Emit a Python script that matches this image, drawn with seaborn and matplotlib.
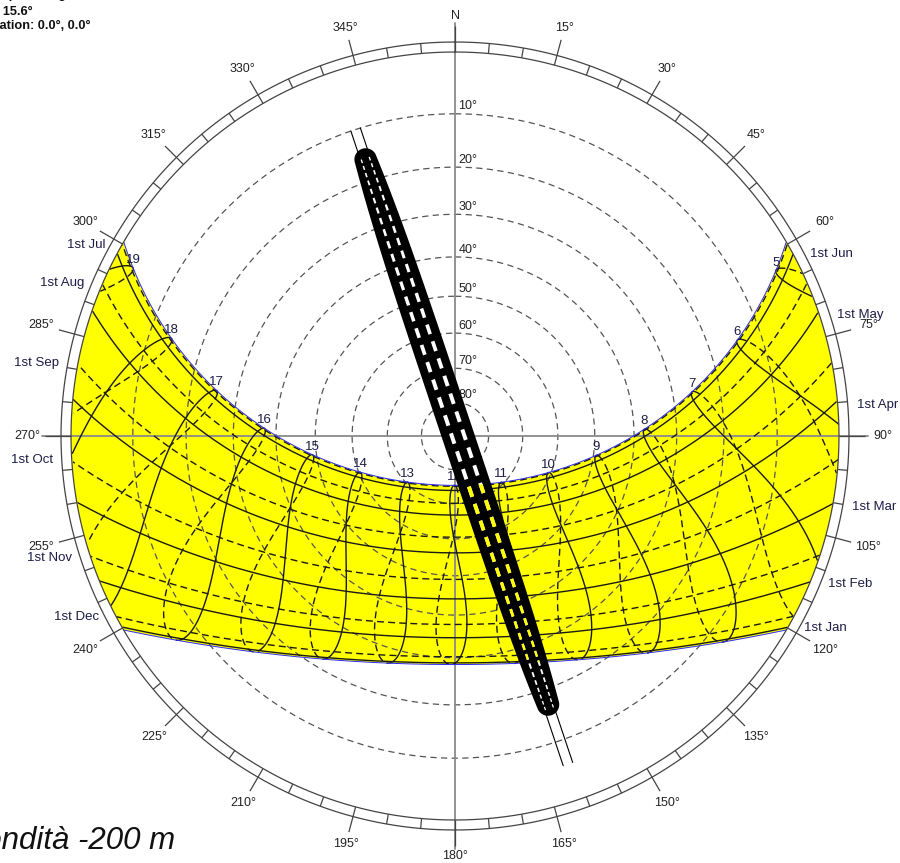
import numpy as np
import pandas as pd
import matplotlib
matplotlib.use("Agg")
import matplotlib.pyplot as plt
import seaborn as sns
from matplotlib.collections import LineCollection

# ---------------------------------------------------------------- site / data
LATITUDE = 38.1
LONGITUDE = 15.6
TIMEZONE = 1.0

MONTH_LABELS = ["1st Jan", "1st Feb", "1st Mar", "1st Apr", "1st May", "1st Jun",
                "1st Jul", "1st Aug", "1st Sep", "1st Oct", "1st Nov", "1st Dec"]
MONTH_DAYS = [1, 32, 60, 91, 121, 152, 182, 213, 244, 274, 305, 335]
SOLSTICE_DAYS = [172, 355]          # upper and lower edge of the sun-path band
HOUR_LABELS = list(range(5, 20))
ANALEMMA_HOURS = list(range(4, 21))
AZIMUTH_TICKS = list(range(0, 360, 15))
AZIMUTH_TEXT = ["N"] + [f"{a}°" for a in AZIMUTH_TICKS[1:]]
ALTITUDE_RINGS = [10, 20, 30, 40, 50, 60, 70, 80]
ALTITUDE_TEXT = [f"{a}°" for a in ALTITUDE_RINGS]

TUNNEL_AZIMUTH = 341.5              # axis bearing of the gallery (north end)
TUNNEL_OPEN_ALT = [13.8, 15.0]      # altitude of the open slot ends: north, south
TUNNEL_TAIL_ALT = [10.0, 5.8]       # altitude reached by the guide lines

HEADER_LINES = ["Stereographic Diagram", "Location: 38.1°, 15.6°",
                "Orientation: 0.0°, 0.0°"]
CAPTION = "Profondità -200 m"

# ---------------------------------------------------------------- styling
W, H = 900, 863
CX, CY = 455, 436          # diagram centre in pixels
R_PX = 384                 # horizon radius in pixels
RMAX = 1.25
PX = 1.0 / R_PX
INK = "#1a1a1a"
NAVY = "#1c1c48"
YELLOW = "#ffff00"
BLUE = "#2a2aff"
# vertical nudge (pixels, downward) of each month name from its horizon point
MONTH_NUDGE_PX = [-9, -6, 0, 5, 8, 9, 10, 6, 2, -3, -4, -9]

sns.set_theme(style="white")
plt.rcParams["font.family"] = ["Liberation Sans", "DejaVu Sans"]


def sun_position(day, hour):
    """Azimuth (rad, clockwise from N) and zenith angle (rad) for clock time."""
    day = np.asarray(day, dtype=float)
    hour = np.asarray(hour, dtype=float)
    g = 2 * np.pi / 365 * (day - 1 + (hour - 12) / 24)
    eot = 229.18 * (0.000075 + 0.001868 * np.cos(g) - 0.032077 * np.sin(g)
                    - 0.014615 * np.cos(2 * g) - 0.040849 * np.sin(2 * g))
    dec = (0.006918 - 0.399912 * np.cos(g) + 0.070257 * np.sin(g)
           - 0.006758 * np.cos(2 * g) + 0.000907 * np.sin(2 * g)
           - 0.002697 * np.cos(3 * g) + 0.00148 * np.sin(3 * g))
    tst = hour * 60 + eot + 4 * LONGITUDE - 60 * TIMEZONE
    ha = np.radians(tst / 4 - 180)
    lat = np.radians(LATITUDE)
    cosz = np.sin(lat) * np.sin(dec) + np.cos(lat) * np.cos(dec) * np.cos(ha)
    zen = np.arccos(np.clip(cosz, -1, 1))
    az = np.arctan2(np.sin(ha), np.cos(ha) * np.sin(lat) - np.tan(dec) * np.cos(lat)) + np.pi
    return az, zen


def stereo(zen):
    r = np.tan(zen / 2)
    return np.where(zen <= np.pi / 2, r, np.nan)


def alt_radius(alt_deg):
    return np.tan(np.radians(90 - alt_deg) / 2)


# ---------------------------------------------------------------- figure
fig = plt.figure(figsize=(W / 100, H / 100), dpi=100)
side = 2 * RMAX * R_PX
ax = fig.add_axes([(CX - side / 2) / W, (H - CY - side / 2) / H, side / W, side / H],
                  projection="polar")
ax.set_theta_zero_location("N")
ax.set_theta_direction(-1)
ax.set_ylim(0, RMAX)
ax.set_autoscale_on(False)
ax.axis("off")

full = np.linspace(0, 2 * np.pi, 1441)

# ---- yellow sun-path band between the solstices
t = np.arange(0, 24, 1 / 60)
band = []
for d in SOLSTICE_DAYS:
    az, zen = sun_position(d, t)
    r = stereo(zen)
    ok = np.isfinite(r)
    band.append((az[ok], r[ok]))
(top_th, top_r), (bot_th, bot_r) = band
arc1 = np.linspace(top_th[-1], bot_th[-1], 80)
arc2 = np.linspace(bot_th[0], top_th[0], 80)
poly_th = np.concatenate([top_th, arc1, bot_th[::-1], arc2])
poly_r = np.concatenate([top_r, np.ones_like(arc1), bot_r[::-1], np.ones_like(arc2)])
yellow_patch = ax.fill(poly_th, poly_r, color=YELLOW, lw=0, zorder=1)[0]
for th, r in band:
    ax.plot(th, r, color=BLUE, lw=0.7, zorder=3.5)

# ---- altitude rings and labels
for a, txt in zip(ALTITUDE_RINGS, ALTITUDE_TEXT):
    rr = alt_radius(a)
    ax.plot(full, np.full_like(full, rr), color="#555555", lw=0.9,
            dashes=(5, 3.5), zorder=2)
    ax.annotate(txt, xy=(0, rr), xytext=(2.5, 1.0), textcoords="offset points",
                ha="left", va="bottom", fontsize=9, color="#222222", zorder=4)

# ---- cross hairs
for a in (0, 90, 180, 270):
    ax.plot([np.radians(a)] * 2, [0, 1.075], color="#8a8a8a", lw=1.3, zorder=2.5)

# ---- monthly paths and hourly analemmas
records = []
seg_id = 0


def add_path(theta, r, half):
    global seg_id
    idx = np.flatnonzero(np.isfinite(r))
    if len(idx) < 2:
        return
    for run in np.split(idx, np.flatnonzero(np.diff(idx) > 1) + 1):
        if len(run) < 2:
            continue
        records.append(pd.DataFrame({"theta": theta[run], "r": r[run],
                                     "segment": seg_id, "half": half}))
        seg_id += 1


month_ends = []
for i, d in enumerate(MONTH_DAYS):
    az, zen = sun_position(d, t)
    r = stereo(zen)
    half = "Jan-Jun" if i < 6 else "Jul-Dec"
    add_path(az, r, half)
    ok = np.flatnonzero(np.isfinite(r))
    month_ends.append(az[ok[0]] if i < 6 else az[ok[-1]])

days_a = np.arange(1, 183)
days_b = np.arange(182, 367)
for h in ANALEMMA_HOURS:
    for days, half in ((days_a, "Jan-Jun"), (days_b, "Jul-Dec")):
        az, zen = sun_position(days, np.full(days.shape, float(h)))
        add_path(az, stereo(zen), half)

paths = pd.concat(records, ignore_index=True)
sns.lineplot(data=paths, x="theta", y="r", units="segment", estimator=None,
             sort=False, style="half", dashes={"Jan-Jun": "", "Jul-Dec": (5, 3)},
             color=INK, linewidth=1.0, legend=False, ax=ax, zorder=3)
ax.set_xlabel("")
ax.set_ylabel("")
ax.set_ylim(0, RMAX)

# ---- horizon ring with azimuth scale
ax.plot(full, np.full_like(full, 1.0), color="#444444", lw=0.9, zorder=4)
ax.plot(full, np.full_like(full, 1.026), color="#444444", lw=0.9, zorder=4)
ticks = []
for a in range(0, 360, 5):
    th = np.radians(a)
    r1 = 1.068 if a % 15 == 0 else 1.026
    ticks.append([(th, 1.0), (th, r1)])
ax.add_collection(LineCollection(ticks, colors="#444444", linewidths=0.9, zorder=4))

for a, txt in zip(AZIMUTH_TICKS, AZIMUTH_TEXT):
    th = np.radians(a)
    rr = 1.095 + 0.02 * abs(np.sin(th))
    ax.text(th, rr, txt, ha="center", va="center", fontsize=9, color="#222222",
            zorder=7)

# month names sit just outside the ring where each path meets the horizon
for i, (lab, th) in enumerate(zip(MONTH_LABELS, month_ends)):
    east = i < 6
    ax.annotate(lab, xy=(th, 1.05), xytext=(0, -MONTH_NUDGE_PX[i] * 0.72),
                textcoords="offset points", ha="left" if east else "right",
                va="center", fontsize=9.5, color=NAVY, zorder=7)

# ---- hour numbers along the June solstice path
for h in HOUR_LABELS:
    az, zen = sun_position(SOLSTICE_DAYS[0], float(h))
    ax.annotate(str(h), xy=(float(az), float(np.tan(zen / 2))), xytext=(0, 1.5),
                textcoords="offset points", ha="center", va="bottom",
                fontsize=9.5, color=NAVY, zorder=4)

# ---- gallery slot (black band with perforations)
phi = np.radians(TUNNEL_AZIMUTH)
ux, uy = np.sin(phi), np.cos(phi)
vx, vy = np.cos(phi), -np.sin(phi)
P0 = 3.0 * PX          # slight sideways offset of the slot axis from the zenith


def to_polar(s, p):
    p = p + P0
    x = s * ux + p * vx
    y = s * uy + p * vy
    return np.arctan2(x, y), np.hypot(x, y)


s_n = alt_radius(TUNNEL_OPEN_ALT[0])
s_s = -alt_radius(TUNNEL_OPEN_ALT[1])
hw_mid, hw_end = 16.0 * PX, 10.5 * PX


def half_width(s):
    s = np.asarray(s, dtype=float)
    se = np.where(s >= 0, s_n, -s_s)
    return hw_end + (hw_mid - hw_end) * (1 - np.clip((s / se) ** 4, 0, 1))


c_n = s_n - hw_end
c_s = s_s + hw_end
body = np.linspace(c_s, c_n, 500)
R_n = float(half_width(c_n))
R_s = float(half_width(c_s))
tn = np.linspace(np.pi / 2, -np.pi / 2, 40)
ts = np.linspace(-np.pi / 2, -3 * np.pi / 2, 40)
ss = np.concatenate([body, c_n + R_n * np.cos(tn), body[::-1], c_s + R_s * np.cos(ts)])
pp = np.concatenate([half_width(body), R_n * np.sin(tn), -half_width(body[::-1]),
                     R_s * np.sin(ts)])
slot_th, slot_r = to_polar(ss, pp)
ax.fill(slot_th, slot_r, color="black", lw=0, zorder=5)

for s0, s1 in ((c_n, alt_radius(TUNNEL_TAIL_ALT[0])),
               (c_s, -alt_radius(TUNNEL_TAIL_ALT[1]))):
    sl = np.linspace(s0, s1, 30)
    for sign in (1, -1):
        th, r = to_polar(sl, np.full_like(sl, sign * 5.0 * PX))
        ax.plot(th, r, color="black", lw=0.8, zorder=5)

holes, widths = [], []
s = s_s + 6 * PX
while True:
    se = s_n if s >= 0 else -s_s
    g = 1 - 0.72 * min((s / se) ** 2, 1.0)
    L, G = 11 * PX * g, 8 * PX * g
    if s + L > s_n - 6 * PX:
        break
    off = 6.0 * PX * (0.55 + 0.45 * g)
    for sign in (1, -1):
        th0, r0 = to_polar(s, sign * off)
        th1, r1 = to_polar(s + L, sign * off)
        holes.append([(th0, r0), (th1, r1)])
        widths.append(4.0 * g * 0.72)
    s += L + G
ax.add_collection(LineCollection(holes, colors="white", linewidths=widths,
                                 capstyle="butt", zorder=6))
lit = LineCollection(holes, colors=YELLOW, linewidths=widths, capstyle="butt",
                     zorder=6.1)
ax.add_collection(lit)
lit.set_clip_path(yellow_patch)

# ---- header and caption
head_pos = [(89, -1.5, "baseline"), (33, 12, "center"), (91, 26, "center")]
for txt, (xr, yp, va) in zip(HEADER_LINES, head_pos):
    fig.text(xr / W, 1 - yp / H, txt, ha="right", va=va, fontsize=9.2,
             fontweight="bold", color="#111111")
fig.text(-73 / W, 1 - 849 / H, CAPTION, ha="left", va="baseline", fontsize=22.5,
         fontstyle="italic", color="#111111")

fig.savefig("out.png", dpi=100, facecolor="white")
